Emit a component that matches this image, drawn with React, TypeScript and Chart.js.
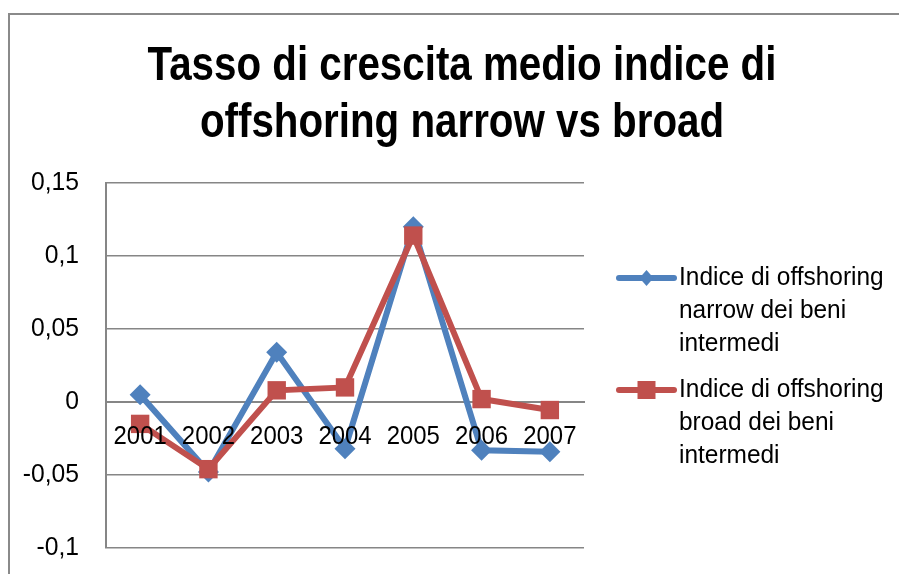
import React, { useEffect, useRef } from 'react';
import { Chart, registerables } from 'chart.js';

Chart.register(...registerables);

const years = ['2001', '2002', '2003', '2004', '2005', '2006', '2007'];
const narrowValues = [0.005, -0.048, 0.034, -0.032, 0.12, -0.033, -0.034];
const broadValues = [-0.015, -0.046, 0.008, 0.01, 0.114, 0.002, -0.0055];
const titleLines = ['Tasso di crescita medio indice di', 'offshoring narrow vs broad'];
const narrowLegend = ['Indice di offshoring', 'narrow dei beni', 'intermedi'];
const broadLegend = ['Indice di offshoring', 'broad dei beni', 'intermedi'];
const yMin = -0.1;
const yMax = 0.15;
const yStep = 0.05;

const BLUE = '#4F81BD';
const RED = '#C0504D';
const GRID = '#868686';
const FONT = '"Liberation Sans", Arial, sans-serif';

const CW = 904;
const CH = 580;

function drawText(ctx: any, text: string, x: number, y: number, align: string, sx: number) {
  ctx.save();
  ctx.translate(x, y);
  ctx.scale(sx, 1);
  ctx.textAlign = align;
  ctx.fillText(text, 0, 0);
  ctx.restore();
}

const fmt = (v: number) => String(Number(Number(v).toFixed(2))).replace('.', ',');

const textPlugin = {
  id: 'customText',
  afterDraw(chart: any) {
    const ctx = chart.ctx;
    ctx.save();
    ctx.fillStyle = '#000';
    // title
    ctx.font = `bold 48px ${FONT}`;
    ctx.textBaseline = 'alphabetic';
    titleLines.forEach((t, i) => drawText(ctx, t, chart.width / 2, 65 + i * 57, 'center', 0.84));

    // axis tick labels
    ctx.font = `26px ${FONT}`;
    ctx.textBaseline = 'middle';
    const ys = chart.scales.y;
    ys.ticks.forEach((t: any, i: number) => {
      drawText(ctx, fmt(t.value), ys.right - 27, ys.getPixelForTick(i), 'right', 0.95);
    });
    const xs = chart.scales.x;
    const zero = ys.getPixelForValue(0);
    xs.ticks.forEach((t: any, i: number) => {
      drawText(ctx, String(xs.getLabelForValue(t.value)), xs.getPixelForTick(i), zero + 35, 'center', 0.92);
    });

    // legend
    const x0 = chart.chartArea.right + 35;
    const x1 = x0 + 55;
    const tx = x1 + 5;
    const items = [
      { lines: narrowLegend, color: BLUE, y: 263, shape: 'diamond' },
      { lines: broadLegend, color: RED, y: 375, shape: 'square' },
    ];
    items.forEach((it) => {
      ctx.strokeStyle = it.color;
      ctx.lineWidth = 6;
      ctx.lineCap = 'round';
      ctx.beginPath();
      ctx.moveTo(x0, it.y);
      ctx.lineTo(x1, it.y);
      ctx.stroke();
      ctx.fillStyle = it.color;
      const cx = (x0 + x1) / 2;
      ctx.beginPath();
      if (it.shape === 'diamond') {
        ctx.moveTo(cx, it.y - 8);
        ctx.lineTo(cx + 7, it.y);
        ctx.lineTo(cx, it.y + 8);
        ctx.lineTo(cx - 7, it.y);
        ctx.closePath();
      } else {
        ctx.rect(cx - 9, it.y - 9, 18, 18);
      }
      ctx.fill();
      ctx.fillStyle = '#000';
      ctx.font = `26px ${FONT}`;
      ctx.textBaseline = 'middle';
      it.lines.forEach((l, i) => drawText(ctx, l, tx, it.y + i * 33, 'left', 0.94));
    });
    ctx.restore();
  },
};

export default function App() {
  const canvasRef = useRef<HTMLCanvasElement | null>(null);

  useEffect(() => {
    document.documentElement.style.overflow = 'hidden';
    document.body.style.overflow = 'hidden';
    const canvas = canvasRef.current;
    if (!canvas) return;
    const chart = new Chart(canvas, {
      type: 'line',
      data: {
        labels: years,
        datasets: [
          {
            label: narrowLegend.join(' '),
            data: narrowValues,
            borderColor: BLUE,
            backgroundColor: BLUE,
            borderWidth: 6,
            pointStyle: 'rectRot',
            pointRadius: 10.5,
            pointBorderWidth: 0,
            pointBackgroundColor: BLUE,
            tension: 0,
            order: 1,
          },
          {
            label: broadLegend.join(' '),
            data: broadValues,
            borderColor: RED,
            backgroundColor: RED,
            borderWidth: 6,
            pointStyle: 'rect',
            pointRadius: 13,
            pointBorderWidth: 0,
            pointBackgroundColor: RED,
            tension: 0,
            order: 0,
          },
        ],
      },
      options: {
        responsive: false,
        animation: false,
        layout: { padding: { top: 168, right: CW - 574, bottom: CH - 533, left: 0 } },
        plugins: {
          legend: { display: false },
          title: { display: false },
          tooltip: { enabled: false },
        },
        scales: {
          x: {
            type: 'category',
            position: { y: 0 } as any,
            offset: true,
            grid: { display: false, drawTicks: false },
            border: { display: true, color: GRID, width: 2 },
            ticks: { display: false, autoSkip: false, maxRotation: 0 },
          },
          y: {
            min: yMin,
            max: yMax,
            afterFit(scale: any) {
              scale.width = 96;
            },
            grid: { color: GRID, lineWidth: 1.5, drawTicks: false },
            border: { display: true, color: GRID, width: 2 },
            ticks: { display: false, stepSize: yStep },
          },
        },
      },
      plugins: [textPlugin],
    });
    return () => chart.destroy();
  }, []);

  return (
    <div
      style={{
        position: 'absolute',
        left: 8,
        top: 13,
        borderLeft: '2px solid #8a8a8a',
        borderTop: '2px solid #8a8a8a',
        background: '#fff',
      }}
    >
      <canvas ref={canvasRef} width={CW} height={CH} style={{ display: 'block', width: CW, height: CH }} />
    </div>
  );
}
